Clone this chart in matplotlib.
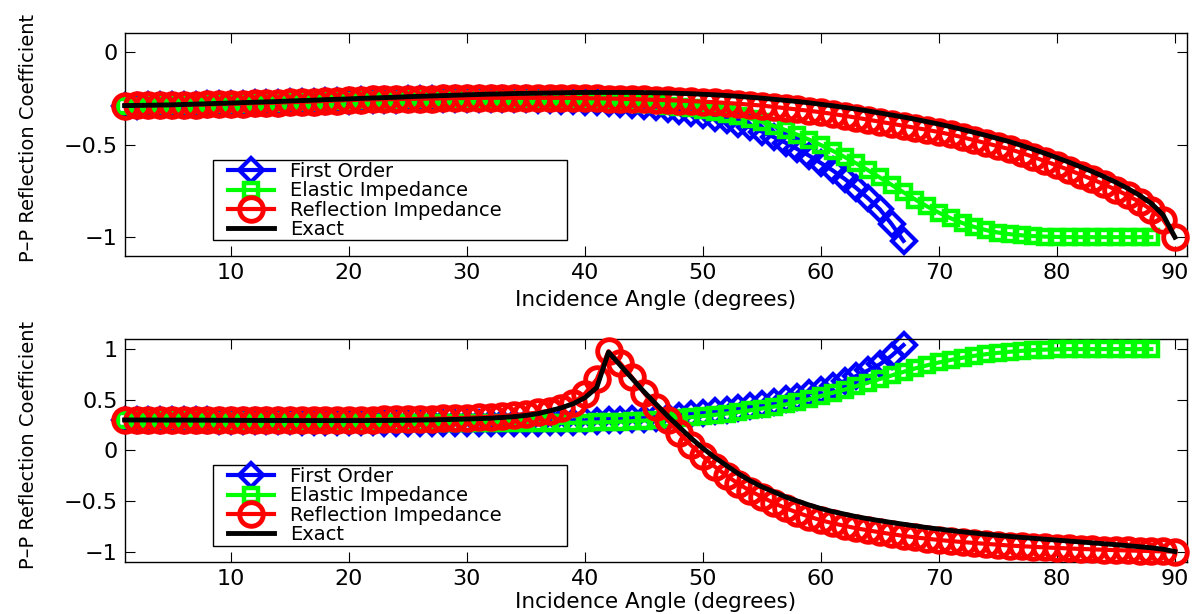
import matplotlib
matplotlib.use("Agg")
import matplotlib.pyplot as plt
from matplotlib.patches import Rectangle

plt.rcParams['font.family'] = ['DejaVu Sans']

# ---------------- data ----------------
angles = list(range(1, 91))

x_ticks = [10, 20, 30, 40, 50, 60, 70, 80, 90]
x_tick_labels = ['10', '20', '30', '40', '50', '60', '70', '80', '90']
top_y_ticks = [-1, -0.5, 0]
top_y_tick_labels = ['\u22121', '\u22120.5', '0']
bot_y_ticks = [-1, -0.5, 0, 0.5, 1]
bot_y_tick_labels = ['\u22121', '\u22120.5', '0', '0.5', '1']

series_names = ['First Order', 'Elastic Impedance', 'Reflection Impedance', 'Exact']

# Top panel
first_order_top = [
    -0.290, -0.290, -0.289, -0.288, -0.287, -0.286, -0.285, -0.284, -0.283, -0.281,
    -0.280, -0.278, -0.276, -0.275, -0.273, -0.271, -0.269, -0.267, -0.266, -0.264,
    -0.262, -0.261, -0.259, -0.258, -0.257, -0.256, -0.255, -0.254, -0.254, -0.254,
    -0.254, -0.254, -0.255, -0.256, -0.257, -0.259, -0.261, -0.264, -0.267, -0.270,
    -0.272, -0.276, -0.281, -0.287, -0.293, -0.300, -0.308, -0.317, -0.328, -0.340,
    -0.355, -0.370, -0.388, -0.408, -0.430, -0.460, -0.490, -0.525, -0.560, -0.600,
    -0.640, -0.685, -0.735, -0.790, -0.850, -0.930, -1.020]
elastic_top = [
    -0.290, -0.290, -0.289, -0.288, -0.287, -0.286, -0.285, -0.284, -0.283, -0.281,
    -0.280, -0.278, -0.276, -0.275, -0.273, -0.271, -0.269, -0.267, -0.266, -0.264,
    -0.262, -0.261, -0.259, -0.258, -0.257, -0.256, -0.255, -0.254, -0.253, -0.253,
    -0.252, -0.252, -0.252, -0.252, -0.253, -0.254, -0.255, -0.257, -0.259, -0.261,
    -0.264, -0.267, -0.270, -0.274, -0.279, -0.284, -0.290, -0.297, -0.304, -0.313,
    -0.322, -0.333, -0.345, -0.360, -0.378, -0.400, -0.422, -0.447, -0.474, -0.503,
    -0.534, -0.567, -0.602, -0.639, -0.678, -0.718, -0.758, -0.797, -0.834, -0.868,
    -0.898, -0.924, -0.945, -0.962, -0.975, -0.984, -0.990, -0.994, -0.997, -0.999,
    -1.000, -1.000, -1.000, -1.000, -1.000, -1.000, -1.000, -1.000]
reflimp_top = [
    -0.290, -0.289, -0.289, -0.288, -0.287, -0.286, -0.285, -0.284, -0.282, -0.281,
    -0.279, -0.277, -0.276, -0.274, -0.272, -0.270, -0.268, -0.265, -0.263, -0.260,
    -0.258, -0.257, -0.256, -0.255, -0.254, -0.253, -0.252, -0.251, -0.250, -0.249,
    -0.248, -0.248, -0.248, -0.248, -0.248, -0.248, -0.248, -0.248, -0.249, -0.250,
    -0.251, -0.252, -0.253, -0.255, -0.257, -0.259, -0.261, -0.263, -0.266, -0.269,
    -0.272, -0.276, -0.280, -0.285, -0.290, -0.297, -0.304, -0.311, -0.318, -0.326,
    -0.335, -0.345, -0.355, -0.366, -0.377, -0.388, -0.399, -0.410, -0.421, -0.433,
    -0.446, -0.461, -0.477, -0.493, -0.509, -0.525, -0.545, -0.567, -0.590, -0.613,
    -0.637, -0.662, -0.688, -0.715, -0.744, -0.775, -0.810, -0.852, -0.905, -1.000]
exact_top = [
    -0.290, -0.289, -0.288, -0.287, -0.286, -0.284, -0.282, -0.280, -0.278, -0.276,
    -0.274, -0.272, -0.270, -0.268, -0.265, -0.263, -0.261, -0.258, -0.256, -0.254,
    -0.251, -0.249, -0.247, -0.245, -0.242, -0.240, -0.238, -0.236, -0.234, -0.232,
    -0.230, -0.228, -0.227, -0.225, -0.224, -0.223, -0.222, -0.221, -0.220, -0.219,
    -0.219, -0.219, -0.219, -0.219, -0.220, -0.221, -0.222, -0.224, -0.226, -0.229,
    -0.232, -0.236, -0.240, -0.245, -0.250, -0.256, -0.262, -0.268, -0.275, -0.283,
    -0.291, -0.300, -0.309, -0.319, -0.330, -0.341, -0.352, -0.364, -0.377, -0.390,
    -0.404, -0.419, -0.435, -0.451, -0.468, -0.485, -0.505, -0.526, -0.548, -0.571,
    -0.595, -0.620, -0.646, -0.674, -0.704, -0.737, -0.774, -0.818, -0.880, -1.000]

# Bottom panel
first_order_bot = [
    0.300, 0.300, 0.299, 0.299, 0.298, 0.297, 0.296, 0.295, 0.294, 0.293,
    0.291, 0.290, 0.289, 0.287, 0.286, 0.284, 0.283, 0.281, 0.280, 0.279,
    0.277, 0.276, 0.275, 0.274, 0.273, 0.272, 0.271, 0.271, 0.270, 0.270,
    0.270, 0.270, 0.271, 0.272, 0.273, 0.275, 0.277, 0.280, 0.283, 0.286,
    0.290, 0.295, 0.300, 0.306, 0.313, 0.321, 0.330, 0.340, 0.355, 0.370,
    0.385, 0.400, 0.420, 0.440, 0.460, 0.480, 0.505, 0.530, 0.565, 0.600,
    0.640, 0.685, 0.735, 0.790, 0.850, 0.935, 1.040]
elastic_bot = [
    0.300, 0.300, 0.299, 0.299, 0.298, 0.297, 0.296, 0.295, 0.294, 0.293,
    0.291, 0.290, 0.288, 0.287, 0.285, 0.284, 0.282, 0.281, 0.279, 0.278,
    0.277, 0.275, 0.274, 0.273, 0.272, 0.271, 0.270, 0.269, 0.268, 0.268,
    0.267, 0.267, 0.267, 0.267, 0.267, 0.268, 0.269, 0.270, 0.272, 0.274,
    0.276, 0.279, 0.283, 0.288, 0.294, 0.301, 0.309, 0.318, 0.328, 0.339,
    0.351, 0.364, 0.379, 0.395, 0.413, 0.432, 0.453, 0.476, 0.505, 0.537,
    0.570, 0.600, 0.635, 0.670, 0.705, 0.740, 0.775, 0.810, 0.840, 0.868,
    0.893, 0.915, 0.934, 0.950, 0.963, 0.974, 0.983, 0.990, 0.995, 0.998,
    1.000, 1.000, 1.000, 1.000, 1.000, 1.000, 1.000, 1.000]
reflimp_bot = [
    0.300, 0.300, 0.300, 0.300, 0.300, 0.300, 0.300, 0.300, 0.300, 0.300,
    0.300, 0.300, 0.300, 0.300, 0.300, 0.300, 0.301, 0.301, 0.302, 0.302,
    0.303, 0.304, 0.305, 0.306, 0.308, 0.310, 0.312, 0.315, 0.318, 0.322,
    0.327, 0.333, 0.340, 0.349, 0.360, 0.374, 0.392, 0.417, 0.465, 0.560,
    0.700, 0.980, 0.860, 0.720, 0.570, 0.430, 0.300, 0.170, 0.050, -0.060,
    -0.160, -0.250, -0.330, -0.400, -0.460, -0.520, -0.570, -0.615, -0.655, -0.690,
    -0.720, -0.745, -0.770, -0.790, -0.810, -0.828, -0.845, -0.860, -0.873, -0.885,
    -0.896, -0.906, -0.915, -0.924, -0.932, -0.940, -0.947, -0.953, -0.959, -0.964,
    -0.969, -0.974, -0.978, -0.982, -0.986, -0.989, -0.992, -0.995, -0.998, -1.000]
exact_bot = [
    0.300, 0.300, 0.300, 0.299, 0.299, 0.299, 0.298, 0.298, 0.297, 0.297,
    0.296, 0.296, 0.295, 0.295, 0.295, 0.294, 0.294, 0.294, 0.294, 0.294,
    0.294, 0.295, 0.295, 0.296, 0.297, 0.299, 0.301, 0.303, 0.306, 0.309,
    0.313, 0.318, 0.325, 0.333, 0.345, 0.362, 0.390, 0.420, 0.460, 0.520,
    0.620, 0.970, 0.840, 0.710, 0.580, 0.460, 0.340, 0.230, 0.120, 0.020,
    -0.070, -0.150, -0.230, -0.300, -0.360, -0.410, -0.460, -0.500, -0.540, -0.575,
    -0.605, -0.630, -0.655, -0.676, -0.695, -0.713, -0.730, -0.747, -0.763, -0.778,
    -0.792, -0.805, -0.817, -0.829, -0.840, -0.850, -0.860, -0.869, -0.878, -0.887,
    -0.896, -0.905, -0.914, -0.923, -0.932, -0.942, -0.952, -0.963, -0.977, -1.000]

panels = [
    dict(fo=first_order_top, ei=elastic_top, ri=reflimp_top, ex=exact_top,
         ylim=(-1.1, 0.1), yt=top_y_ticks, ytl=top_y_tick_labels,
         rect=[0.10392, 0.58355, 0.885, 0.36221], ylab_y=0.529, xlab_y=-0.154,
         box=(0.0829, 0.0706, 0.3333, 0.3594), leg_top=0.4213),
    dict(fo=first_order_bot, ei=elastic_bot, ri=reflimp_bot, ex=exact_bot,
         ylim=(-1.1, 1.1), yt=bot_y_ticks, ytl=bot_y_tick_labels,
         rect=[0.10392, 0.08518, 0.885, 0.3627], ylab_y=0.524, xlab_y=-0.136,
         box=(0.0829, 0.0705, 0.3333, 0.3637), leg_top=0.4252),
]

fig = plt.figure(figsize=(12, 6.14), dpi=100)

LW = 3.0
for p in panels:
    ax = fig.add_axes(p['rect'])
    n_fo, n_ei, n_ri, n_ex = len(p['fo']), len(p['ei']), len(p['ri']), len(p['ex'])
    ax.plot(angles[:n_fo], p['fo'], color=(0, 0, 1), lw=LW, marker='D', ms=12,
            mew=3.0, mfc='none', mec=(0, 0, 1), label=series_names[0], clip_on=False, zorder=2)
    ax.plot(angles[:n_ei], p['ei'], color=(0, 1, 0), lw=LW, marker='s', ms=10.5,
            mew=3.2, mfc='none', mec=(0, 1, 0), label=series_names[1], clip_on=False, zorder=3)
    ax.plot(angles[:n_ri], p['ri'], color=(1, 0, 0), lw=LW, marker='o', ms=17,
            mew=3.5, mfc='none', mec=(1, 0, 0), label=series_names[2], clip_on=False, zorder=4)
    ax.plot(angles[:n_ex], p['ex'], color='k', lw=3.5, label=series_names[3],
            clip_on=False, zorder=5)

    ax.set_xlim(1, 91)
    ax.set_ylim(*p['ylim'])
    ax.set_xticks(x_ticks)
    ax.set_xticklabels(x_tick_labels)
    ax.set_yticks(p['yt'])
    ax.set_yticklabels(p['ytl'])
    ax.tick_params(direction='in', length=7, width=0.8, top=True, right=True,
                   labelsize=16, colors='k')
    ax.tick_params(axis='x', pad=5.5)
    ax.tick_params(axis='y', pad=5)
    for s in ax.spines.values():
        s.set_linewidth(1.0)
        s.set_color('k')

    ax.set_xlabel('Incidence Angle (degrees)', fontsize=15.5)
    ax.xaxis.set_label_coords(0.5, p['xlab_y'])
    ax.set_ylabel('P\u2013P Reflection Coefficient', fontsize=14)
    ax.yaxis.set_label_coords(-0.0817, p['ylab_y'])

    bx, by, bw, bh = p['box']
    ax.add_patch(Rectangle((bx, by), bw, bh, transform=ax.transAxes, facecolor='white',
                           edgecolor='k', linewidth=1.0, zorder=9, clip_on=False))
    leg = ax.legend(loc='upper left', bbox_to_anchor=(0.0973, p['leg_top']),
                    borderaxespad=0, borderpad=0, fontsize=14, frameon=False,
                    handlelength=2.37, handletextpad=0.82, labelspacing=0.02)
    leg.set_zorder(10)

fig.savefig('out.png', dpi=100)
